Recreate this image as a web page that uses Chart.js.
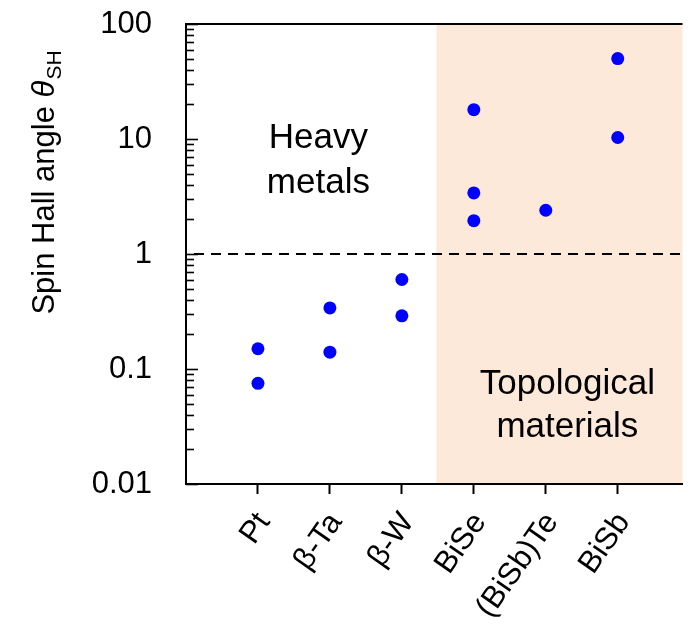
<!DOCTYPE html>
<html>
<head>
<meta charset="utf-8">
<script src="https://cdn.jsdelivr.net/npm/chart.js@4.4.1/dist/chart.umd.min.js"></script>
<style>
html, body { margin: 0; padding: 0; background: #fff; }
#wrap { width: 689px; height: 642px; }
</style>
</head>
<body>
<div id="wrap"><canvas id="spinChart"></canvas></div>
<script>
// materials along the x axis
const materials = ['Pt', 'β-Ta', 'β-W', 'BiSe', '(BiSb)Te', 'BiSb'];
// spin Hall angles, one list per material
const ptValues = [0.15, 0.075];
const taValues = [0.34, 0.14];
const wValues = [0.6, 0.29];
const biSeValues = [18, 3.4, 1.95];
const biSbTeValues = [2.4];
const biSbValues = [50, 10.3];
const yTickLabels = ['0.01', '0.1', '1', '10', '100'];
const thresholdValue = 1;        // dashed line
const topologicalStart = 3.48;   // where the shaded region begins (x units)

const FONT = "'Liberation Sans', Arial, sans-serif";

let allValues = [ptValues, taValues, wValues, biSeValues, biSbTeValues, biSbValues];
let points = [];
for (let i = 0; i < allValues.length; i++) {
    allValues[i].forEach(v => points.push({x: i + 1, y: v}));
}

// log ticks: 1..9 in every decade
let majorVals = yTickLabels.map(Number);
let yTickVals = [];
for (let i = 0; i < majorVals.length; i++) {
    yTickVals.push({value: majorVals[i], major: true});
    if (i < majorVals.length - 1) {
        for (let k = 2; k <= 9; k++) yTickVals.push({value: majorVals[i] * k, major: false});
    }
}

const decorPlugin = {
    id: 'decor',
    beforeDraw(chart) {
        const ctx = chart.ctx;
        const area = chart.chartArea;
        const xs = chart.scales.x;
        ctx.save();
        ctx.fillStyle = '#ffffff';
        ctx.fillRect(0, 0, chart.width, chart.height);
        let x0 = xs.getPixelForValue(topologicalStart);
        ctx.fillStyle = '#fce9da';
        ctx.fillRect(x0, area.top, area.right - x0, area.bottom - area.top);
        ctx.restore();
    },
    afterDraw(chart) {
        const ctx = chart.ctx;
        const area = chart.chartArea;
        const xs = chart.scales.x;
        const ys = chart.scales.y;
        ctx.save();

        // dashed line at 1
        let yLine = ys.getPixelForValue(thresholdValue);
        ctx.strokeStyle = '#000';
        ctx.lineWidth = 2;
        ctx.setLineDash([10, 7]);
        ctx.beginPath();
        ctx.moveTo(area.left + 8, yLine);
        ctx.lineTo(area.right, yLine);
        ctx.stroke();
        ctx.setLineDash([]);

        // top frame
        ctx.beginPath();
        ctx.moveTo(area.left - 1, area.top);
        ctx.lineTo(area.right, area.top);
        ctx.stroke();

        // inward y ticks
        ctx.lineWidth = 1.6;
        ys.ticks.forEach(t => {
            let py = Math.round(ys.getPixelForValue(t.value)) + 0.5;
            let len = t.major ? 12 : 8;
            ctx.beginPath();
            ctx.moveTo(area.left, py);
            ctx.lineTo(area.left + len, py);
            ctx.stroke();
        });

        // region labels
        ctx.fillStyle = '#000';
        ctx.font = '35px ' + FONT;
        ctx.textAlign = 'center';
        ctx.textBaseline = 'alphabetic';
        let hx = xs.getPixelForValue(1.84);
        ctx.fillText('Heavy', hx, 148);
        ctx.fillText('metals', hx, 193);
        let tx = xs.getPixelForValue(5.3);
        ctx.fillText('Topological', tx, 394);
        ctx.fillText('materials', tx, 437);

        // y axis title with italic theta and subscript
        ctx.translate(54, 183);
        ctx.rotate(-Math.PI / 2);
        ctx.textAlign = 'left';
        let mainFont = '31px ' + FONT;
        let thetaFont = 'italic 31px ' + FONT;
        let subFont = '21px ' + FONT;
        ctx.font = mainFont;
        let w1 = ctx.measureText('Spin Hall angle ').width;
        ctx.font = thetaFont;
        let w2 = ctx.measureText('θ').width;
        ctx.font = subFont;
        let w3 = ctx.measureText('SH').width;
        let sx = -(w1 + w2 + w3) / 2;
        ctx.font = mainFont;
        ctx.fillText('Spin Hall angle ', sx, 0);
        ctx.font = thetaFont;
        ctx.fillText('θ', sx + w1, 0);
        ctx.font = subFont;
        ctx.fillText('SH', sx + w1 + w2 + 1, 7);

        ctx.restore();
    }
};

let chartEl = document.getElementById('spinChart').getContext('2d');
let spinChart = new Chart(chartEl, {
    type: 'scatter',
    data: {
        datasets: [{
            label: 'Spin Hall angle',
            data: points,
            backgroundColor: '#0000ff',
            borderWidth: 0,
            pointRadius: 6.5,
            pointHoverRadius: 6.5
        }]
    },
    options: {
        responsive: true,
        maintainAspectRatio: false,
        animation: false,
        layout: {
            padding: {top: 24, right: 0, bottom: 0, left: 0}
        },
        plugins: {
            legend: {display: false},
            tooltip: {enabled: false}
        },
        scales: {
            x: {
                type: 'linear',
                min: 0,
                max: 6.9,
                afterBuildTicks: (scale) => {
                    scale.ticks = materials.map((m, i) => ({value: i + 1}));
                },
                afterFit: (scale) => {
                    scale.height = 642 - 484;
                    scale.paddingLeft = 0;
                    scale.paddingRight = 0;
                },
                ticks: {
                    autoSkip: false,
                    minRotation: 55,
                    maxRotation: 55,
                    padding: 12,
                    labelOffset: 6,
                    color: '#000',
                    font: {family: FONT, size: 31},
                    callback: (v) => materials[v - 1] || ''
                },
                grid: {
                    drawOnChartArea: false,
                    drawTicks: true,
                    tickLength: 10,
                    tickWidth: 2,
                    tickColor: '#000'
                },
                border: {display: true, color: '#000', width: 2}
            },
            y: {
                type: 'logarithmic',
                min: 0.01,
                max: 100,
                afterBuildTicks: (scale) => {
                    scale.ticks = yTickVals.map(t => ({value: t.value, major: t.major}));
                },
                afterFit: (scale) => {
                    scale.width = 186;
                    scale.paddingTop = 0;
                    scale.paddingBottom = 0;
                },
                ticks: {
                    autoSkip: false,
                    padding: 34,
                    color: '#000',
                    font: {family: FONT, size: 31},
                    callback: function(v) {
                        let idx = majorVals.indexOf(v);
                        return idx >= 0 ? yTickLabels[idx] : '';
                    }
                },
                grid: {display: false, drawTicks: false},
                border: {display: true, color: '#000', width: 2}
            }
        }
    },
    plugins: [decorPlugin]
});
</script>
</body>
</html>
